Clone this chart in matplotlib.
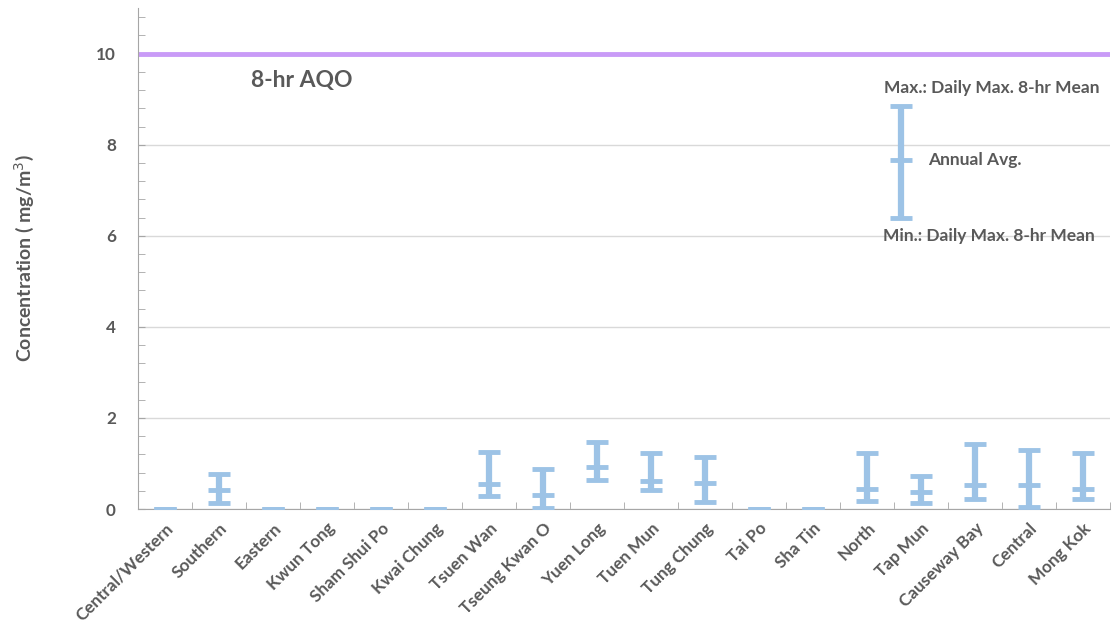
import numpy as np
import matplotlib.pyplot as plt
from matplotlib.ticker import MultipleLocator

plt.rcParams['font.family'] = ['Lato', 'DejaVu Sans']

stations = ['Central/Western', 'Southern', 'Eastern', 'Kwun Tong', 'Sham Shui Po',
            'Kwai Chung', 'Tsuen Wan', 'Tseung Kwan O', 'Yuen Long', 'Tuen Mun',
            'Tung Chung', 'Tai Po', 'Sha Tin', 'North', 'Tap Mun', 'Causeway Bay',
            'Central', 'Mong Kok']
# CO, mg/m3: annual average and min/max of the daily max 8-hr mean
annual_avg = [0, 0.42, 0, 0, 0, 0, 0.55, 0.31, 0.92, 0.62, 0.57, 0, 0, 0.44, 0.37, 0.53, 0.53, 0.44]
daily_min = [0, 0.13, 0, 0, 0, 0, 0.29, 0.02, 0.64, 0.42, 0.15, 0, 0, 0.18, 0.13, 0.22, 0.05, 0.22]
daily_max = [0, 0.77, 0, 0, 0, 0, 1.25, 0.88, 1.47, 1.23, 1.14, 0, 0, 1.23, 0.73, 1.43, 1.30, 1.23]
aqo_8hr = 10

# key glyph values
key_x = 13.63
key_min, key_avg, key_max = 6.40, 7.67, 8.84

blue = '#9DC3E6'
grey = '#595959'

fig = plt.figure(figsize=(11.15, 6.25), dpi=100)
ax = fig.add_axes([0.1238, 0.1856, 0.8717, 0.8014])

x = np.arange(len(stations))
avg = np.array(annual_avg)
lo = avg - np.array(daily_min)
hi = np.array(daily_max) - avg

ax.errorbar(x, avg, yerr=[lo, hi], fmt='none', ecolor=blue, elinewidth=4.5,
            capsize=8, capthick=3.5, zorder=3)
ax.plot(x, avg, ls='none', marker='_', ms=16, mew=3.5, color=blue, zorder=3)

# key glyph
ax.errorbar([key_x], [key_avg], yerr=[[key_avg - key_min], [key_max - key_avg]],
            fmt='none', ecolor=blue, elinewidth=4.5, capsize=8, capthick=3.5, zorder=3)
ax.plot([key_x], [key_avg], ls='none', marker='_', ms=16, mew=3.5, color=blue, zorder=3)
ax.text(key_x - 0.32, key_max + 0.4, 'Max.: Daily Max. 8-hr Mean', ha='left', va='center',
        fontsize=12.5, fontweight='bold', color=grey)
ax.text(key_x + 0.5, key_avg, 'Annual Avg.', ha='left', va='center',
        fontsize=12.5, fontweight='bold', color=grey)
ax.text(key_x - 0.34, key_min - 0.4, 'Min.: Daily Max. 8-hr Mean', ha='left', va='center',
        fontsize=12.5, fontweight='bold', color=grey)

# objective line
ax.axhline(aqo_8hr, color='#C99BF7', lw=3.5, zorder=2)
ax.text(1.6, 9.4, '8-hr AQO', ha='left', va='center', fontsize=16.5,
        fontweight='bold', color=grey)

ax.set_xlim(-0.5, len(stations) - 0.5)
ax.set_ylim(0, 11)
ax.set_xticks(x)
ax.set_xticklabels(stations, rotation=45, ha='right', rotation_mode='anchor',
                   fontsize=12.3, fontweight='bold', color=grey)
ax.set_xticks(np.arange(-0.5, len(stations)), minor=True)
ax.tick_params(axis='x', which='major', length=0, pad=8)
ax.tick_params(axis='x', which='minor', direction='in', length=5, color='#A6A6A6')

ax.set_yticks([0, 2, 4, 6, 8, 10])
ax.yaxis.set_minor_locator(MultipleLocator(0.4))
ax.tick_params(axis='y', which='both', direction='in', length=5, color='#A6A6A6', pad=16)
for lbl in ax.get_yticklabels():
    lbl.set_fontweight('bold')
    lbl.set_fontsize(12.3)
    lbl.set_color(grey)

ax.set_ylabel('Concentration ( mg/m$^3$)', fontsize=14, fontweight='bold', color=grey)
ax.yaxis.set_label_coords(-0.105, 0.5)

ax.grid(axis='y', which='major', color='#D9D9D9', lw=1, zorder=0)
ax.set_axisbelow(True)
for side in ['top', 'right']:
    ax.spines[side].set_visible(False)
for side in ['left', 'bottom']:
    ax.spines[side].set_color('#A6A6A6')

fig.savefig('out.png', dpi=100)
